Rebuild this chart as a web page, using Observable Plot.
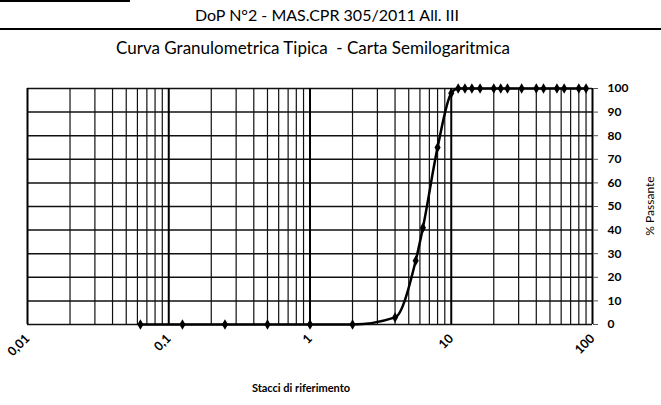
<!DOCTYPE html>
<html><head><meta charset="utf-8">
<script src="https://cdn.jsdelivr.net/npm/d3@7"></script>
<script src="https://cdn.jsdelivr.net/npm/@observablehq/plot@0.6"></script>
<style>
body{margin:0;background:#fff;}
#wrap{position:relative;width:661px;height:405px;overflow:hidden;font-family:Lato,"Open Sans",sans-serif;background:#fff;}
#wrap svg{position:absolute;left:0;top:0;}
.t{position:absolute;white-space:pre;color:#000;line-height:1;}
.ln{position:absolute;background:#000;}
</style></head><body><div id="wrap"></div>
<script>
const headerText = "DoP N°2 - MAS.CPR 305/2011 All. III";
const titleText = "Curva Granulometrica Tipica  - Carta Semilogaritmica";
const xLabel = "Stacci di riferimento";
const yLabel = "% Passante";

const sieves  = [0.063, 0.125, 0.25, 0.5, 1, 2, 4, 5.6, 6.3, 8, 10, 11.2, 12.5, 14, 16, 20, 22.4, 25, 31.5, 40, 45, 56, 63, 80, 90];
const passing = [0, 0, 0, 0, 0, 0, 3, 27, 41, 75, 98, 100, 100, 100, 100, 100, 100, 100, 100, 100, 100, 100, 100, 100, 100];

const xTicks = [0.01, 0.1, 1, 10, 100];
const xTickLabels = ["0,01", "0,1", "1", "10", "100"];
const yTicks = [0, 10, 20, 30, 40, 50, 60, 70, 80, 90, 100];

const data = sieves.map((s, i) => ({s, p: passing[i]}));
const gridAll = d3.scaleLog().domain([0.01, 100]).ticks();
const isDecade = v => Math.abs(Math.log10(v) - Math.round(Math.log10(v))) < 1e-9;
const gridMinor = gridAll.filter(v => !isDecade(v));
const gridMajor = gridAll.filter(isDecade);
const fmtX = d => {
  const i = xTicks.findIndex(t => Math.abs(Math.log10(t) - Math.log10(d)) < 1e-6);
  return i >= 0 ? xTickLabels[i] : "";
};

const chart = Plot.plot({
  width: 661,
  height: 405,
  marginLeft: 27,
  marginRight: 69,
  marginTop: 88,
  marginBottom: 81,
  style: {fontFamily: "Lato, 'Open Sans', sans-serif", background: "transparent"},
  x: {type: "log", domain: [0.01, 100], tickFormat: fmtX},
  y: {domain: [0, 100]},
  marks: [
    Plot.ruleY(yTicks, {stroke: "#111", strokeWidth: 1.5}),
    Plot.ruleX(gridMinor, {stroke: "#111", strokeWidth: 1.2}),
    Plot.ruleX(gridMajor, {stroke: "#000", strokeWidth: 2}),
    Plot.axisX({ticks: xTicks, tickFormat: fmtX, tickRotate: -45, tickSize: 0, tickPadding: 12, label: null, fontSize: 12.5, fontWeight: "bold"}),
    Plot.axisY({anchor: "right", ticks: yTicks, tickSize: 5, tickPadding: 10, label: null, fontSize: 12, fontWeight: "bold", stroke: "#555"}),
    Plot.line(data, {x: "s", y: "p", stroke: "#000", strokeWidth: 2.5, curve: "monotone-x"}),
    Plot.dot(data, {x: "s", y: "p", symbol: "diamond", r: 3.2, fill: "#000", stroke: "none"})
  ]
});

const wrap = document.getElementById("wrap");
wrap.appendChild(chart);

function addText(txt, css) {
  const d = document.createElement("div");
  d.className = "t";
  d.textContent = txt;
  Object.assign(d.style, css);
  wrap.appendChild(d);
  return d;
}
function addLine(css) {
  const d = document.createElement("div");
  d.className = "ln";
  Object.assign(d.style, css);
  wrap.appendChild(d);
}
addLine({left: "0px", top: "0px", width: "130px", height: "2px"});
addLine({left: "0px", top: "28px", width: "661px", height: "2px"});
addText(headerText, {fontSize: "16px", top: "7px", left: "327px", transform: "translateX(-50%)"});
addText(titleText, {fontSize: "17px", top: "39px", left: "313px", transform: "translateX(-50%)"});
addText(xLabel, {fontSize: "11px", fontWeight: "bold", top: "382px", left: "301px", transform: "translateX(-50%)"});
addText(yLabel, {fontSize: "12px", top: "206px", left: "650px", transform: "translate(-50%,-50%) rotate(-90deg)"});
</script>
</body></html>
